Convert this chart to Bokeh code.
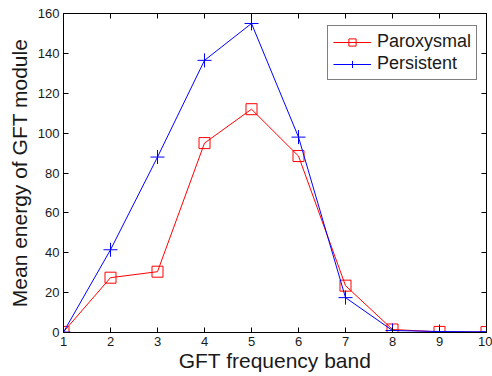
from bokeh.plotting import figure
from bokeh.models import LinearAxis, Legend, FixedTicker, Range1d
from bokeh.embed import file_html
from bokeh.resources import INLINE

bands = [1, 2, 3, 4, 5, 6, 7, 8, 9, 10]
paroxysmal = [0.3, 27.5, 30.5, 95.0, 112.0, 88.5, 23.5, 1.5, 0.3, 0.2]
persistent = [0.2, 41.5, 88.0, 136.5, 155.0, 98.0, 17.5, 1.0, 0.5, 0.3]
x_ticks = [1, 2, 3, 4, 5, 6, 7, 8, 9, 10]
y_ticks = [0, 20, 40, 60, 80, 100, 120, 140, 160]
x_label = "GFT frequency band"
y_label = "Mean energy of GFT module"

FONT = "Liberation Sans"
TXT = "#1a1a1a"

p = figure(width=492, height=376, output_backend="svg", toolbar_location=None,
           x_range=Range1d(1, 10), y_range=Range1d(0, 160),
           min_border_left=63, min_border_right=6, min_border_top=13, min_border_bottom=44,
           x_axis_location=None, y_axis_location=None)
p.grid.visible = False
p.outline_line_color = "black"
p.outline_line_width = 1
p.background_fill_color = "white"
p.border_fill_color = "white"

def style_axis(ax, ticks, show_labels):
    ax.ticker = FixedTicker(ticks=ticks)
    ax.axis_line_color = "black"
    ax.axis_line_width = 1
    ax.major_tick_in = 5
    ax.major_tick_out = 0
    ax.major_tick_line_color = "black"
    ax.minor_tick_line_color = None
    ax.major_label_text_font = FONT
    ax.major_label_text_color = TXT
    ax.major_label_text_font_size = "13px"
    ax.axis_label_text_font = FONT
    ax.axis_label_text_font_style = "normal"
    ax.axis_label_text_color = TXT
    ax.axis_label_text_font_size = "21px"
    if show_labels:
        ax.major_label_standoff = 4
    else:
        ax.major_label_standoff = 0
        ax.major_label_overrides = {t: "" for t in ticks}

bx = LinearAxis(axis_label=x_label); style_axis(bx, x_ticks, True)
bx.axis_label_standoff = 0
lx = LinearAxis(axis_label=y_label); style_axis(lx, y_ticks, True)
lx.axis_label_standoff = 4
tx = LinearAxis(); style_axis(tx, x_ticks, False)
rx = LinearAxis(); style_axis(rx, y_ticks, False)
p.add_layout(bx, "below")
p.add_layout(lx, "left")
p.add_layout(tx, "above")
p.add_layout(rx, "right")

r1 = p.line(bands, paroxysmal, line_color="#ff0000", line_width=1)
s1 = p.scatter(bands, paroxysmal, marker="square", size=11, line_color="#ff0000",
               fill_color=None, line_width=1)
r2 = p.line(bands, persistent, line_color="#0000ff", line_width=1)
s2 = p.scatter(bands, persistent, marker="cross", size=14, line_color="#0000ff", line_width=1)

legend = Legend(items=[("Paroxysmal", [r1, s1]), ("Persistent", [r2, s2])],
                location=(264, 252))
legend.border_line_color = "black"
legend.border_line_width = 1
legend.background_fill_color = "white"
legend.background_fill_alpha = 1
legend.label_text_font = FONT
legend.label_text_font_size = "18px"
legend.label_text_color = TXT
legend.glyph_width = 38
legend.glyph_height = 18
legend.label_height = 18
legend.label_standoff = 6
legend.spacing = 1
legend.padding = 5
legend.margin = 0
p.add_layout(legend, "center")

open("out.html", "w").write(file_html(p, INLINE))
